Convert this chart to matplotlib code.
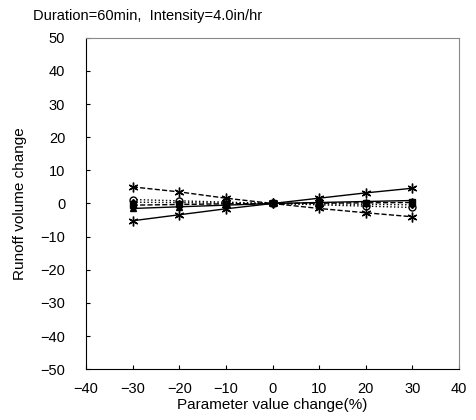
import matplotlib
matplotlib.use("Agg")
import matplotlib.pyplot as plt

plt.rcParams['font.family'] = ['Liberation Sans', 'DejaVu Sans']

# data
x_change = [-30, -20, -10, 0, 10, 20, 30]
s_circle = [1.2, 0.8, 0.4, 0, -0.4, -0.8, -1.2]
s_tri = [-1.5, -1.0, -0.5, 0, 0.3, 0.6, 0.9]
s_square = [-0.5, -0.3, -0.1, 0, 0.1, 0.2, 0.3]
s_diamond = [0.4, 0.25, 0.1, 0, -0.1, -0.25, -0.4]
s_star_up = [-5.2, -3.4, -1.6, 0, 1.6, 3.2, 4.6]
s_star_down = [5.0, 3.5, 1.6, 0, -1.5, -2.8, -4.0]
x_ticks = [-40, -30, -20, -10, 0, 10, 20, 30, 40]
y_ticks = [-50, -40, -30, -20, -10, 0, 10, 20, 30, 40, 50]

fig = plt.figure(figsize=(4.76, 4.2), dpi=100)
ax = fig.add_axes([0.181, 0.121, 0.783, 0.789])

ax.plot(x_change, s_circle, 'k:', marker='o', mfc='white', ms=5, lw=1)
ax.plot(x_change, s_tri, 'k-', marker='^', ms=5, lw=1)
ax.plot(x_change, s_square, 'k--', marker='s', ms=4, lw=1)
ax.plot(x_change, s_diamond, 'k:', marker='D', ms=3, lw=1)
ax.plot(x_change, s_star_up, 'k-', marker=(6, 2, 0), ms=7, lw=1)
ax.plot(x_change, s_star_down, 'k--', marker=(6, 2, 0), ms=7, lw=1)

ax.set_xlim(-40, 40)
ax.set_ylim(-50, 50)
ax.set_xticks(x_ticks)
ax.set_yticks(y_ticks)
ax.tick_params(direction='in', labelsize=10.5, length=3)
ax.tick_params(axis='x', pad=9)
ax.tick_params(axis='y', pad=15)
for side in ['top', 'right']:
    ax.spines[side].set_color('#888888')
    ax.spines[side].set_linewidth(0.8)

ax.set_xlabel('Parameter value change(%)', fontsize=11, labelpad=2)
ax.set_ylabel('Runoff volume change', fontsize=11, labelpad=10)
fig.text(0.069, 0.963, 'Duration=60min,  Intensity=4.0in/hr', fontsize=10.5,
         ha='left', va='center')

plt.savefig('out.png', dpi=100, facecolor='white')
